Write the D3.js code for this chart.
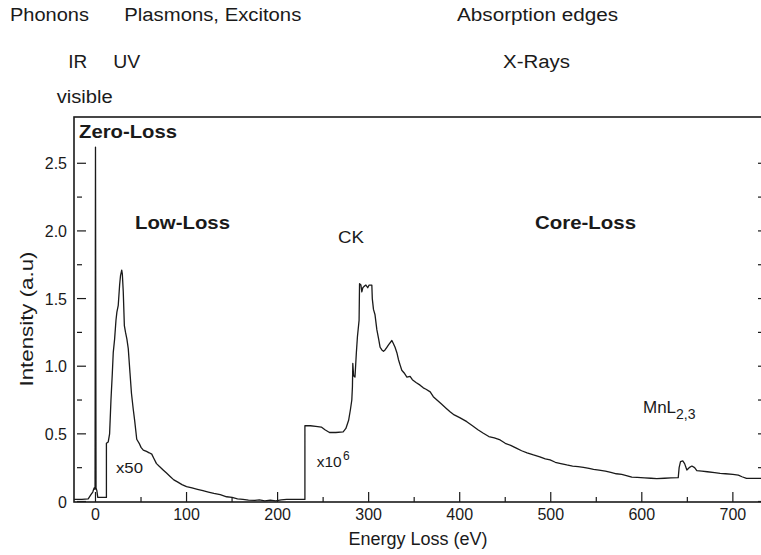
<!DOCTYPE html>
<html><head><meta charset="utf-8">
<script src="https://cdn.jsdelivr.net/npm/d3@7"></script>
<style>body{margin:0;background:#fff}svg{display:block;font-family:"Liberation Sans",Arial,sans-serif}</style>
</head><body><svg id="c" width="761" height="555"></svg>
<script>
const energy = [-23.6,-15,-8,-5,-3,-1.5,-0.5,0,0.6,1.5,2.5,12,12,14,15.5,17,18.5,19.5,21,22.5,23.5,25,26.5,27.5,28.8,29.5,30.5,31.7,33,34.5,36,37.9,39.5,41.5,43,45.3,48,50,52.5,56,59,61.8,64,67,70,74,78,82,86,90,95,100,106,112,118,124,130,137,144,150,156,162,168,175,180,186,192,198,204,210,220,230,230,236,242,248,252,257,264,272,275,278,280,281.5,282.2,282.6,283.5,285,286.5,287.7,289.5,290,291.5,292.5,293.6,295,297,299,300.5,303.5,304,305.3,307,309,311,312.6,314.5,316.3,318,320,322,325.5,327,329,331,332.7,334.5,336.4,339,342,345.5,348,352,356.5,360,363,367.6,371,375,380,385,389.4,394,400,407.8,414,420,426,432,438,444.4,450,456,462.7,468,474,481,488,494,499.3,505,511,517.6,524,530,535.9,542,547,553,560,566,572,578,584,589,595,603,610,616.5,625,632,640,641,642.5,645,647,649.5,652,655,658,660.4,666,672,680,686,692,700,706,710,715,732];
const intensity = [0.015,0.015,0.02,0.05,0.07,0.1,0.09,2.62,0.1,0.08,0.03,0.03,0.43,0.44,0.5,0.75,0.95,1.1,1.2,1.34,1.4,1.45,1.6,1.67,1.71,1.68,1.55,1.3,1.25,1.2,1.13,0.95,0.8,0.68,0.6,0.46,0.43,0.4,0.38,0.37,0.36,0.35,0.32,0.28,0.26,0.235,0.21,0.185,0.16,0.145,0.125,0.11,0.1,0.09,0.08,0.07,0.06,0.05,0.035,0.03,0.02,0.015,0.01,0.008,0.012,0.005,0.01,0.005,0.012,0.015,0.015,0.015,0.56,0.56,0.555,0.55,0.53,0.51,0.51,0.515,0.54,0.6,0.68,0.75,0.85,1.02,0.93,0.92,1.1,1.22,1.34,1.61,1.6,1.55,1.58,1.59,1.6,1.58,1.6,1.6,1.5,1.42,1.38,1.27,1.2,1.14,1.12,1.11,1.12,1.14,1.16,1.19,1.17,1.14,1.1,1.05,1.01,0.97,0.95,0.92,0.925,0.9,0.88,0.86,0.84,0.83,0.81,0.775,0.75,0.72,0.69,0.664,0.64,0.62,0.59,0.56,0.53,0.504,0.48,0.47,0.455,0.43,0.415,0.393,0.375,0.36,0.344,0.33,0.315,0.307,0.29,0.28,0.27,0.262,0.258,0.253,0.245,0.238,0.232,0.225,0.215,0.205,0.2,0.19,0.18,0.178,0.175,0.172,0.169,0.172,0.175,0.176,0.25,0.294,0.3,0.28,0.233,0.25,0.262,0.25,0.228,0.224,0.22,0.214,0.208,0.205,0.2,0.195,0.183,0.171,0.171];
const xTicks = [0,100,200,300,400,500,600,700];
const xMinorTicks = [50,150,250,350,450,550,650];
const yTicks = [0,0.5,1.0,1.5,2.0,2.5];
const yTickLabels = ["0","0.5","1.0","1.5","2.0","2.5"];
const yMinorTicks = [0.25,0.75,1.25,1.75,2.25];

const svg = d3.select("#c");
const L=74, R=762, T=117, B=502;
const x = d3.scaleLinear().domain([-23.6,732]).range([L,R]);
const y = d3.scaleLinear().domain([0,2.842]).range([501.5,T]);
const ink="#1a1a1a";

// frame
svg.append("rect").attr("x",L).attr("y",T).attr("width",R-L).attr("height",B-T)
  .attr("fill","none").attr("stroke",ink).attr("stroke-width",1.6);

// x ticks (inside, upward)
const xt = svg.append("g");
xTicks.forEach(v=>{
  xt.append("line").attr("x1",x(v)).attr("x2",x(v)).attr("y1",B).attr("y2",B-10).attr("stroke",ink).attr("stroke-width",1.2);
  xt.append("text").attr("x",x(v)).attr("y",520).attr("text-anchor","middle").attr("font-size",16).attr("fill",ink).text(v);
});
xMinorTicks.forEach(v=>{
  xt.append("line").attr("x1",x(v)).attr("x2",x(v)).attr("y1",B).attr("y2",B-5).attr("stroke",ink).attr("stroke-width",1.2);
});
// y ticks
yTicks.forEach((v,i)=>{
  xt.append("line").attr("x1",L+3).attr("x2",L+12).attr("y1",y(v)).attr("y2",y(v)).attr("stroke",ink).attr("stroke-width",1.2);
  xt.append("line").attr("x1",R-4).attr("x2",R).attr("y1",y(v)).attr("y2",y(v)).attr("stroke",ink).attr("stroke-width",1.2);
  xt.append("text").attr("x",67).attr("y",y(v)+6).attr("text-anchor","end").attr("font-size",16).attr("fill",ink).text(yTickLabels[i]);
});
yMinorTicks.forEach(v=>{
  xt.append("line").attr("x1",L+3).attr("x2",L+8).attr("y1",y(v)).attr("y2",y(v)).attr("stroke",ink).attr("stroke-width",1.2);
  xt.append("line").attr("x1",R-4).attr("x2",R).attr("y1",y(v)).attr("y2",y(v)).attr("stroke",ink).attr("stroke-width",1.2);
});

// spectrum
const pts = energy.map((e,i)=>[e,intensity[i]]);
svg.append("path").datum(pts)
  .attr("d", d3.line().x(d=>x(d[0])).y(d=>y(d[1])))
  .attr("fill","none").attr("stroke",ink).attr("stroke-width",1.3).attr("stroke-linejoin","round");

// text helper
function txt(xp, yp, s, size, weight, len){
  const t = svg.append("text").attr("x",xp).attr("y",yp).attr("font-size",size)
    .attr("font-weight",weight||"normal").attr("fill",ink).text(s);
  if (len) t.attr("textLength",len).attr("lengthAdjust","spacingAndGlyphs");
  return t;
}
txt(10,21,"Phonons",18,null,79);
txt(124.3,21,"Plasmons, Excitons",18,null,177);
txt(457,21,"Absorption edges",18,null,161);
txt(68.3,68,"IR",18,null,19);
txt(113.3,68,"UV",18,null,27);
txt(503,68,"X-Rays",18,null,67);
txt(56.7,103,"visible",18,null,56);
txt(79,138,"Zero-Loss",18,"bold",98);
txt(135,229,"Low-Loss",18,"bold",95);
txt(535,229,"Core-Loss",18,"bold",101);
txt(338,243,"CK",16,null,26);
txt(116,473,"x50",15,null,27);
txt(316.7,467,"x10",15,null,25);
txt(343,460,"6",12,null);
const mn = svg.append("text").attr("x",643).attr("y",413).attr("font-size",17).attr("fill",ink);
mn.append("tspan").text("MnL");
mn.append("tspan").attr("dy",6).attr("font-size",14).text("2,3");

// axis labels
svg.append("text").attr("x",418).attr("y",545).attr("text-anchor","middle").attr("font-size",18).attr("fill",ink).text("Energy Loss (eV)");
svg.append("text").attr("transform","translate(33,319) rotate(-90)").attr("text-anchor","middle").attr("font-size",19).attr("fill",ink)
  .attr("textLength",135).attr("lengthAdjust","spacingAndGlyphs").text("Intensity (a.u)");
</script></body></html>
